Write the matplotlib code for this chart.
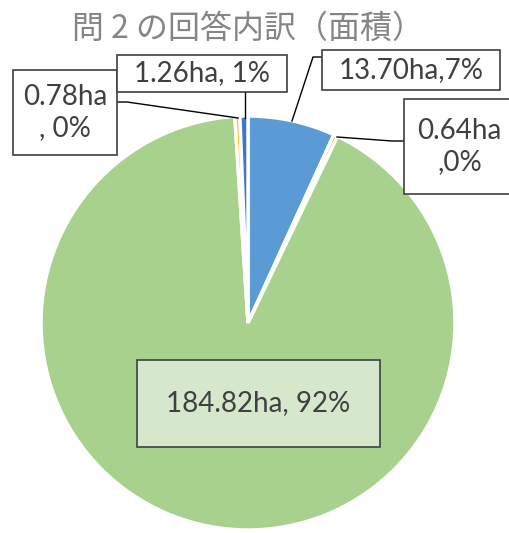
import matplotlib
matplotlib.use("Agg")
import matplotlib.pyplot as plt
from matplotlib.patches import Rectangle

plt.rcParams['font.family'] = ['Noto Sans CJK JP', 'DejaVu Sans']

# データ（時計回り、12時の位置から）
areas = [13.70, 0.64, 184.82, 0.78, 1.26]
labels = ['13.70ha,7%', '0.64ha\n,0%', '184.82ha, 92%', '0.78ha\n, 0%', '1.26ha, 1%']
colors = ['#5B9BD5', '#ED7D31', '#A9D18E', '#FFC000', '#4472C4']
title = '問 2 の回答内訳（面積）'

W, H = 509, 533
fig = plt.figure(figsize=(W / 100, H / 100), dpi=100)
ax = fig.add_axes([0, 0, 1, 1])

def py(y):
    # 画像のピクセル座標(上から) -> データ座標(下から)
    return H - y

cx, cy, r = 248, 323, 207
ax.pie(areas, colors=colors, startangle=90, counterclock=False,
       center=(cx, py(cy)), radius=r, frame=True,
       wedgeprops=dict(edgecolor='white', linewidth=2.5))
ax.set_xlim(0, W)
ax.set_ylim(0, H)
ax.set_aspect('equal')
ax.axis('off')

ax.text(72, py(29), title, ha='left', va='center', fontsize=23,
        color='#858585')

# ラベルの箱: (x0, y0, x1, y1) ピクセル、リーダー線
boxes = [
    (322, 50, 500, 90),
    (404, 99, 515, 194),
    (137, 360, 380, 447),
    (13, 70, 117, 155),
    (117, 55, 287, 92),
]
leaders = [
    [(322, 57), (313, 57), (292, 121)],
    [(404, 141), (392, 141), (337, 137)],
    None,
    [(117, 102), (127, 102), (238, 118)],
    [(245, 92), (245, 118)],
]
label_font = ['Lato', 'DejaVu Sans']
for lab, (x0, y0, x1, y1), ld in zip(labels, boxes, leaders):
    fc = '#D5E8CB' if lab.startswith('184') else 'white'
    ax.add_patch(Rectangle((x0, py(y1)), x1 - x0, y1 - y0, facecolor=fc,
                           edgecolor='#404040', linewidth=1.2, zorder=3))
    ax.text((x0 + x1) / 2, py((y0 + y1) / 2), lab, ha='center', va='center',
            fontsize=20, color='#404040', family=label_font,
            linespacing=1.25, zorder=4)
    if ld:
        xs = [p[0] for p in ld]
        ys = [py(p[1]) for p in ld]
        ax.plot(xs, ys, color='black', linewidth=1, zorder=2)

plt.savefig('out.png', dpi=100)
